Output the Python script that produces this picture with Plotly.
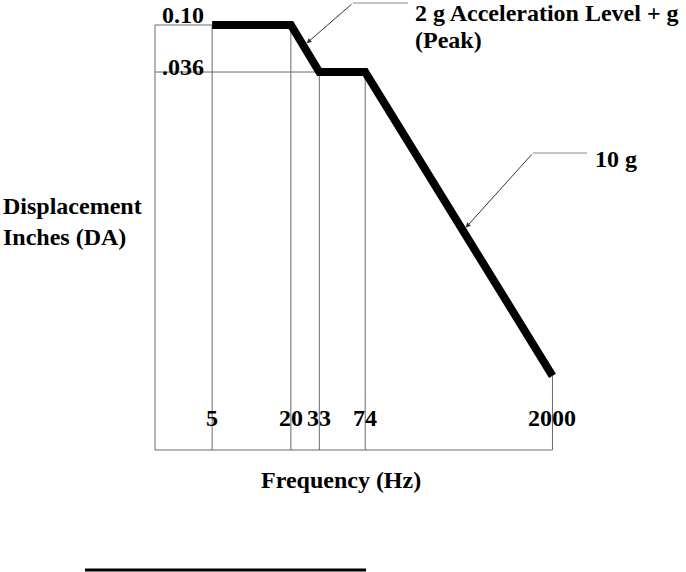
import numpy as np
import plotly.graph_objects as go

# ---- data ----
freq_hz = [5, 20, 33, 74, 2000]
displacement_in = [0.10, 0.10, 0.036, 0.036, 0.000049]
x_tick_labels = ["5", "20", "33", "74", "2000"]
y_level_values = [0.10, 0.036]
y_level_labels = ["0.10", ".036"]

# ---- layout geometry (pixels) ----
W, H = 686, 572
L, R, T, B = 145, 565, 10, 460          # plot-area box in pixels
PX_PER_DEC_X = 130.8
X_OFF = 120.7                           # pixel of log10(f)=0
PX_PER_DEC_Y = 106.0
Y_REF_PX = 25.0                          # pixel of 0.10

def fx(px):   # pixel -> log10 freq
    return (px - X_OFF) / PX_PER_DEC_X

def fy(py):   # pixel -> log10 displacement
    return -1 - (py - Y_REF_PX) / PX_PER_DEC_Y

def px_x(f):
    return X_OFF + PX_PER_DEC_X * np.log10(f)

def px_y(d):
    return Y_REF_PX + (-1 - np.log10(d)) * PX_PER_DEC_Y

def paper_x(px):
    return (px - L) / (R - L)

def paper_y(py):
    return 1 - (py - T) / (B - T)

X_LEFT = 10 ** fx(155)      # left frame line
Y_BASE = 10 ** fy(450)      # bottom frame line

FONT = "Liberation Serif"
GRAY = "#6a6a6a"

fig = go.Figure()

def thin(xs, ys):
    fig.add_trace(go.Scatter(x=xs, y=ys, mode="lines",
                             line=dict(color=GRAY, width=1),
                             hoverinfo="skip", showlegend=False))

# frame
thin([X_LEFT, X_LEFT], [displacement_in[0], Y_BASE])
thin([X_LEFT, freq_hz[-1]], [Y_BASE, Y_BASE])
# drop lines
for f, d in zip(freq_hz, displacement_in):
    thin([f, f], [d, Y_BASE])
# level lines
thin([X_LEFT, freq_hz[0]], [y_level_values[0]] * 2)
thin([X_LEFT, freq_hz[2]], [y_level_values[1]] * 2)

# main curve
fig.add_trace(go.Scatter(x=freq_hz, y=displacement_in, mode="lines",
                         line=dict(color="black", width=8),
                         hoverinfo="skip", showlegend=False))

ann = []
tf = dict(family=FONT, size=24, color="black")
# x tick labels inside frame
for f, lab in zip(freq_hz, x_tick_labels):
    ann.append(dict(x=np.log10(f), y=paper_y(418), xref="x", yref="paper",
                    text=f"<b>{lab}</b>", showarrow=False, font=tf,
                    xanchor="center", yanchor="middle"))
# y level labels
for v, lab, sh in zip(y_level_values, y_level_labels, [10, 5]):
    ann.append(dict(x=paper_x(206), y=np.log10(v), xref="paper", yref="y",
                    text=f"<b>{lab}</b>", showarrow=False, font=tf,
                    xanchor="right", yanchor="middle", yshift=sh))
# axis titles
ann.append(dict(x=paper_x(341), y=paper_y(480), xref="paper", yref="paper",
                text="<b>Frequency (Hz)</b>", showarrow=False, font=tf,
                xanchor="center", yanchor="middle"))
ann.append(dict(x=paper_x(1), y=paper_y(206), xref="paper", yref="paper",
                text="<b>Displacement</b>", showarrow=False, font=tf,
                xanchor="left", yanchor="middle"))
ann.append(dict(x=paper_x(1), y=paper_y(237), xref="paper", yref="paper",
                text="<b>Inches (DA)</b>", showarrow=False, font=tf,
                xanchor="left", yanchor="middle"))
# callouts
ann.append(dict(x=paper_x(413), y=paper_y(13), xref="paper", yref="paper",
                text="<b>2 g Acceleration Level + g</b>", showarrow=False, font=tf,
                xanchor="left", yanchor="middle"))
ann.append(dict(x=paper_x(413), y=paper_y(40), xref="paper", yref="paper",
                text="<b>(Peak)</b>", showarrow=False, font=tf,
                xanchor="left", yanchor="middle"))
ann.append(dict(x=paper_x(593), y=paper_y(159), xref="paper", yref="paper",
                text="<b>10 g</b>", showarrow=False, font=tf,
                xanchor="left", yanchor="middle"))

# arrows (tip on curve)
def curve_y(f):
    return float(10 ** np.interp(np.log10(f), np.log10(freq_hz), np.log10(displacement_in)))

for f_tip, bend in [(25, (353, 3)), (414, (533, 153))]:
    yt = curve_y(f_tip)
    ann.append(dict(x=np.log10(f_tip), y=np.log10(yt), xref="x", yref="y",
                    text="", showarrow=True, arrowhead=2, arrowsize=1,
                    arrowwidth=1, arrowcolor="#333", standoff=4,
                    ax=bend[0] - px_x(f_tip), ay=bend[1] - px_y(yt)))

shapes = [
    dict(type="line", xref="paper", yref="paper",
         x0=paper_x(353), x1=paper_x(408), y0=paper_y(3), y1=paper_y(3),
         line=dict(color="#888", width=1)),
    dict(type="line", xref="paper", yref="paper",
         x0=paper_x(533), x1=paper_x(587), y0=paper_y(153), y1=paper_y(153),
         line=dict(color="#888", width=1)),
    dict(type="line", xref="paper", yref="paper",
         x0=paper_x(85), x1=paper_x(366), y0=paper_y(570), y1=paper_y(570),
         line=dict(color="black", width=3)),
]

fig.update_layout(
    width=W, height=H,
    margin=dict(l=L, r=W - R, t=T, b=H - B, autoexpand=False),
    paper_bgcolor="white", plot_bgcolor="white",
    xaxis=dict(type="log", range=[fx(L), fx(R)], visible=False),
    yaxis=dict(type="log", range=[fy(B), fy(T)], visible=False),
    annotations=ann, shapes=shapes, showlegend=False,
)

fig.write_html("out.html", config={"displayModeBar": False},
               post_script="document.body.style.margin='0';document.body.style.overflow='hidden';")
